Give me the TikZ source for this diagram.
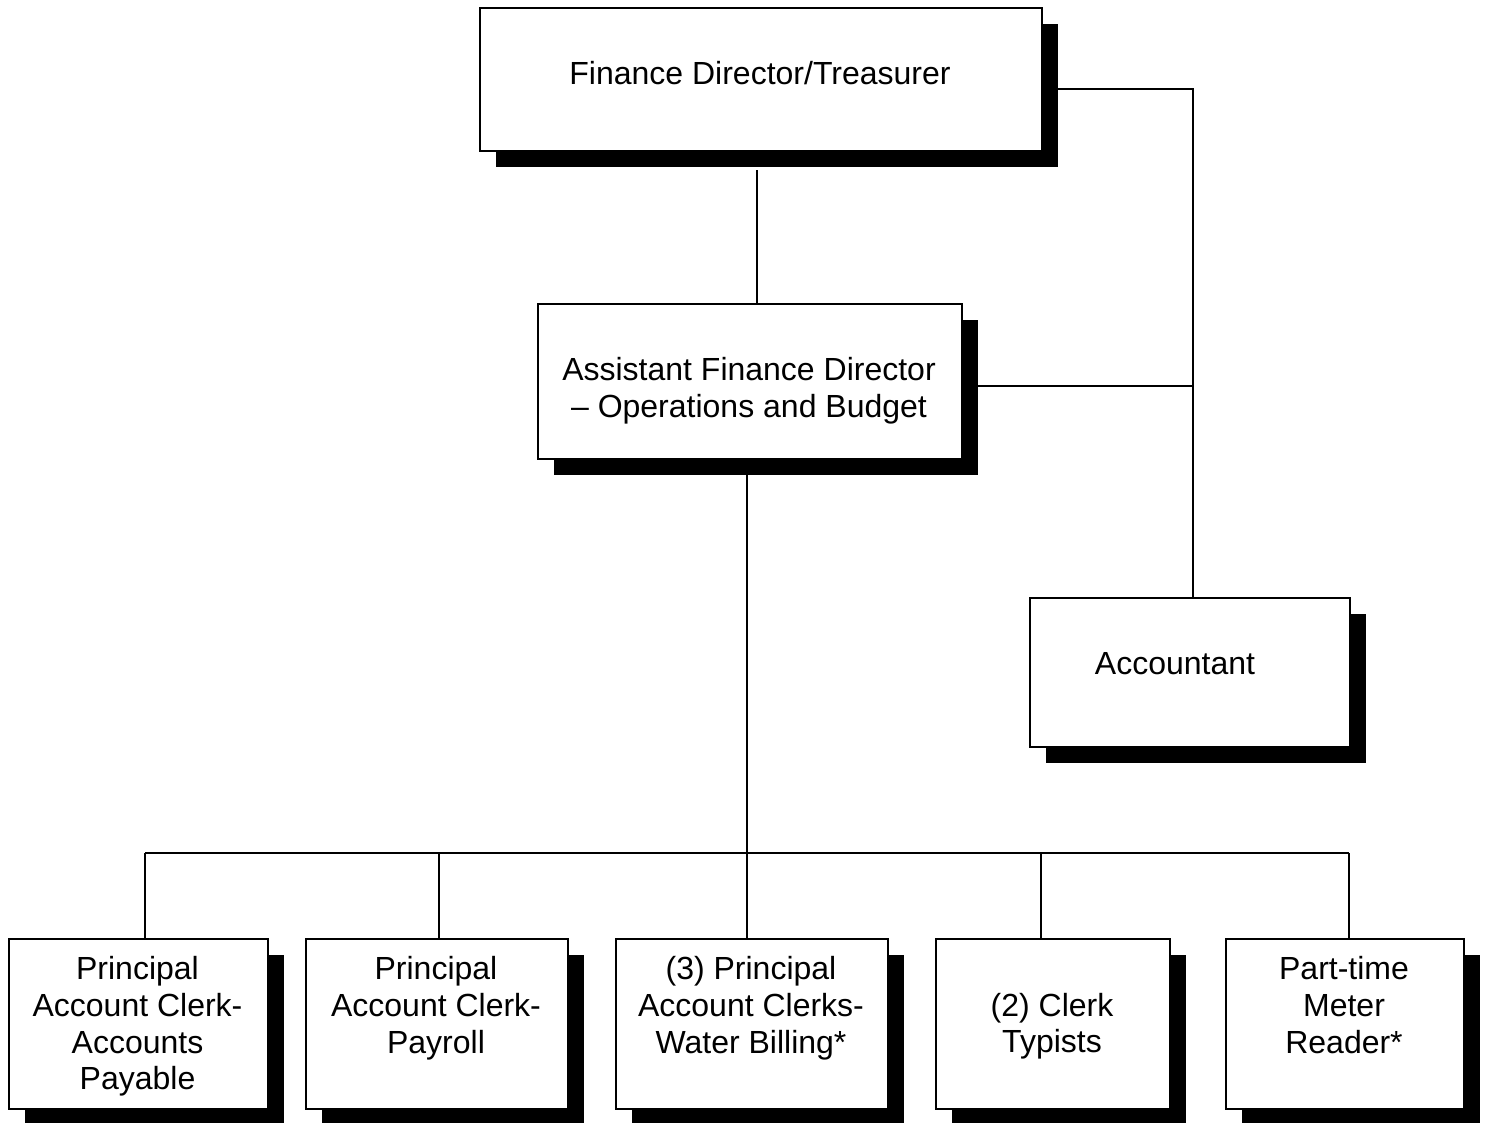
\documentclass[tikz,border=0pt]{standalone}
\usepackage{fontspec}
\setmainfont{Liberation Sans}
\usetikzlibrary{shadows,backgrounds}
\begin{document}
\begin{tikzpicture}[x=1pt,y=-1pt,
  box/.style={draw=black, line width=1.5pt, fill=white, rectangle, inner sep=0pt,
    anchor=north west,
    drop shadow={fill=black, opacity=1, shadow xshift=16pt, shadow yshift=-16pt}},
  lbl/.style={font=\fontsize{32}{36.8}\selectfont, align=center, anchor=base, inner sep=0pt},
  conn/.style={draw=black, line width=1.5pt}]
\useasboundingbox (0,0) rectangle (1487,1122);

% boxes (label anchor = baseline of the last line)
\node[box, minimum width=562pt, minimum height=143pt] (fd) at (479,7) {};
\node[lbl] (fdt) at (760,84.5) {Finance Director/Treasurer};

\node[box, minimum width=424pt, minimum height=155pt] (afd) at (537,303) {};
\node[lbl] (afdt) at (749,417.3) {Assistant Finance Director\\– Operations and Budget};

\node[box, minimum width=320pt, minimum height=149pt] (acc) at (1029,597) {};
\node[lbl] (acct) at (1175,674.5) {Accountant};

\node[box, minimum width=259pt, minimum height=170pt] (b1) at (8,938) {};
\node[lbl] (b1t) at (137.5,1089.9) {Principal\\Account Clerk-\\Accounts\\Payable};

\node[box, minimum width=262pt, minimum height=170pt] (b2) at (305,938) {};
\node[lbl] (b2t) at (436,1053.1) {Principal\\Account Clerk-\\Payroll};

\node[box, minimum width=272pt, minimum height=170pt] (b3) at (615,938) {};
\node[lbl] (b3t) at (751,1053.1) {(3) Principal\\Account Clerks-\\Water Billing*};

\node[box, minimum width=234pt, minimum height=170pt] (b4) at (935,938) {};
\node[lbl] (b4t) at (1052,1052.8) {(2) Clerk\\Typists};

\node[box, minimum width=238pt, minimum height=170pt] (b5) at (1225,938) {};
\node[lbl] (b5t) at (1344,1053.1) {Part-time\\Meter\\Reader*};

% connector points
\coordinate (c1) at (757,170);
\coordinate (r1) at (1193,89);
\coordinate (r2) at (1193,386);
\coordinate (d1) at (747,474);
\coordinate (h1) at (145,853);
\coordinate (h2) at (439,853);
\coordinate (h3) at (747,853);
\coordinate (h4) at (1041,853);
\coordinate (h5) at (1349,853);

\begin{pgfonlayer}{background}
\draw[conn] (c1) -- (c1 |- afd.north);
\draw[conn] (fd.east |- r1) -- (r1) -- (r1 |- acc.north);
\draw[conn] (afd.east |- r2) -- (r2);
\draw[conn] (d1) -- (d1 |- b3.north);
\draw[conn] (h1) -- (h5);
\draw[conn] (h1) -- (h1 |- b1.north);
\draw[conn] (h2) -- (h2 |- b2.north);
\draw[conn] (h4) -- (h4 |- b4.north);
\draw[conn] (h5) -- (h5 |- b5.north);
\end{pgfonlayer}
\end{tikzpicture}
\end{document}
